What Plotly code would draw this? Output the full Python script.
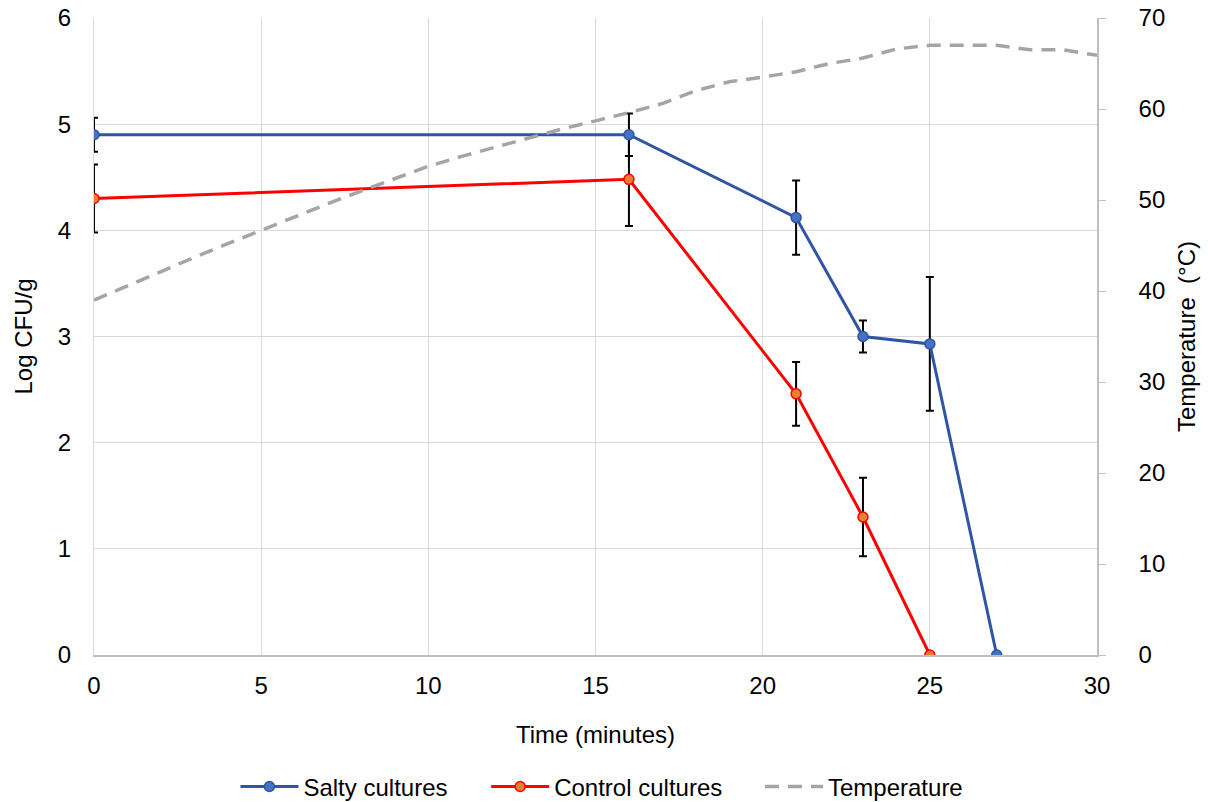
import plotly.graph_objects as go

# Data
salty_time = [0, 16, 21, 23, 25, 27]
salty_log = [4.90, 4.90, 4.12, 3.00, 2.93, 0.0]
salty_err = [0.16, 0.20, 0.35, 0.15, 0.63, 0.0]

control_time = [0, 16, 21, 23, 25]
control_log = [4.30, 4.48, 2.46, 1.30, 0.0]
control_err = [0.32, 0.44, 0.30, 0.37, 0.0]

temp_time = list(range(0, 31))
temp_c = [39.0, 40.6, 42.2, 43.7, 45.2, 46.7, 48.2, 49.6, 51.0, 52.4, 53.7,
          54.8, 55.8, 56.8, 57.8, 58.7, 59.6, 60.6, 62.0, 63.0, 63.5,
          64.1, 65.0, 65.6, 66.6, 67.0, 67.0, 67.0, 66.5, 66.5, 65.9]

FONT = "Liberation Sans, Arial, sans-serif"
FS = 24

fig = go.Figure()

fig.add_trace(go.Scatter(
    x=control_time, y=control_log, name="Control cultures", mode="lines+markers",
    line=dict(color="#FF0000", width=3),
    marker=dict(size=10, color="#ED7D31", line=dict(color="#FF0000", width=1.5)),
    error_y=dict(type="data", array=control_err, color="black", thickness=2, width=4),
    legend="legend2",
))
fig.add_trace(go.Scatter(
    x=salty_time, y=salty_log, name="Salty cultures", mode="lines+markers",
    line=dict(color="#2F55A4", width=3),
    marker=dict(size=10, color="#4472C4", line=dict(color="#2F55A4", width=1.5)),
    error_y=dict(type="data", array=salty_err, color="black", thickness=2, width=4),
    legend="legend",
))
fig.add_trace(go.Scatter(
    x=temp_time, y=temp_c, name="Temperature", mode="lines", yaxis="y2",
    line=dict(color="#A5A5A5", width=3.5, dash="14px,9px"),
    legend="legend3",
))

leg_common = dict(orientation="h", xanchor="left", y=-0.207, yanchor="middle",
                  font=dict(size=FS), itemwidth=58, bgcolor="rgba(0,0,0,0)")

fig.update_layout(
    width=1208, height=802,
    margin=dict(l=94, r=111, t=18, b=147, autoexpand=False),
    paper_bgcolor="white", plot_bgcolor="white",
    font=dict(family=FONT, size=FS, color="black"),
    showlegend=True,
    legend=dict(x=0.141, **leg_common),
    legend2=dict(x=0.391, **leg_common),
    legend3=dict(x=0.664, **leg_common),
    xaxis=dict(
        range=[0, 30], dtick=5, showgrid=True, gridcolor="#D9D9D9", gridwidth=1,
        showline=True, linecolor="#BFBFBF", linewidth=1.5, zeroline=False,
        ticks="", ticklabelstandoff=8,
        title=dict(text="Time (minutes)", standoff=29, font=dict(size=FS)),
        tickfont=dict(size=FS),
    ),
    yaxis=dict(
        range=[0, 6], dtick=1, showgrid=True, gridcolor="#D9D9D9", gridwidth=1,
        showline=True, linecolor="#D9D9D9", zeroline=False,
        ticks="", ticklabelstandoff=17,
        title=dict(text="Log CFU/g", standoff=18, font=dict(size=FS)),
        tickfont=dict(size=FS),
    ),
    yaxis2=dict(
        range=[0, 70], dtick=10, overlaying="y", side="right", showgrid=False,
        showline=True, linecolor="#BFBFBF", linewidth=1.5, zeroline=False,
        ticks="outside", ticklen=7, tickcolor="#BFBFBF", ticklabelstandoff=28,
        title=dict(text="Temperature\u00a0\u00a0(°C)", standoff=14, font=dict(size=FS)),
        tickfont=dict(size=FS),
    ),
)

fig.write_html("out.html")
